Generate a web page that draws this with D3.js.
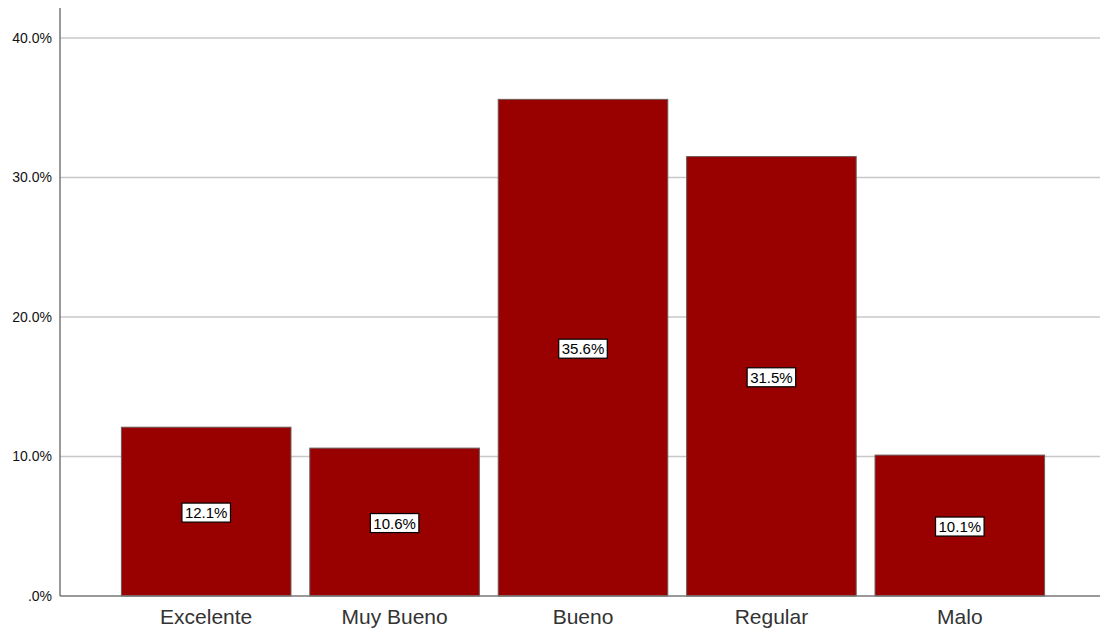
<!DOCTYPE html>
<html><head><meta charset="utf-8">
<script src="https://cdn.jsdelivr.net/npm/d3@7"></script>
<style>body{margin:0;background:#fff}svg{display:block}</style>
</head><body><svg id="c" width="1100" height="631"></svg>
<script>
const categories = ["Excelente","Muy Bueno","Bueno","Regular","Malo"];
const percents = [12.1, 10.6, 35.6, 31.5, 10.1];
const yTicks = [0, 10, 20, 30, 40];
const yTickLabels = [".0%", "10.0%", "20.0%", "30.0%", "40.0%"];

const svg = d3.select("#c");
const x0 = 60, x1 = 1100, yTop = 8, yBot = 596;
const FONT = "Arial, 'Liberation Sans', sans-serif";
const y = d3.scaleLinear().domain([0, 42.15]).range([yBot, yTop]);
const x = d3.scaleBand().domain(categories).range([x0 + 3, x1 + 3]).paddingInner(0.1).paddingOuter(0.31);

// grid
svg.append("g").selectAll("line").data(yTicks.filter(d=>d>0)).join("line")
  .attr("x1", x0).attr("x2", x1).attr("y1", d=>y(d)).attr("y2", d=>y(d))
  .attr("stroke", "#c8c8c8").attr("stroke-width", 1.5);

// bars
svg.append("g").selectAll("rect").data(percents).join("rect")
  .attr("x", (d,i)=>x(categories[i])).attr("width", x.bandwidth())
  .attr("y", d=>y(d)).attr("height", d=>yBot - y(d))
  .attr("fill", "#990000").attr("stroke", "#6e5a5a").attr("stroke-width", 1);

// axes
const yAxis = d3.axisLeft(y).tickValues(yTicks).tickFormat((d,i)=>yTickLabels[i]).tickSize(0).tickPadding(8);
const gy = svg.append("g").attr("transform", `translate(${x0},0)`).call(yAxis);
gy.select(".domain").remove();
gy.selectAll("text").attr("font-family", FONT).attr("font-size", 14).attr("fill","#111");
svg.append("line").attr("x1", x0).attr("x2", x0).attr("y1", yTop).attr("y2", yBot)
  .attr("stroke", "#777").attr("stroke-width", 1.5);

const xAxis = d3.axisBottom(x).tickSize(0).tickPadding(13);
const gx = svg.append("g").attr("transform", `translate(0,${yBot})`).call(xAxis);
gx.select(".domain").remove();
gx.selectAll("text").attr("font-family", FONT).attr("font-size", 21).attr("fill","#333");
svg.append("line").attr("x1", x0).attr("x2", x1).attr("y1", yBot).attr("y2", yBot)
  .attr("stroke", "#777").attr("stroke-width", 1.5);

// value labels
const lg = svg.append("g");
percents.forEach((d,i)=>{
  const cx = x(categories[i]) + x.bandwidth()/2, cy = y(d/2) + 1;
  const t = lg.append("text").attr("x", cx).attr("y", cy).attr("text-anchor","middle")
    .attr("dominant-baseline","central").attr("font-family", FONT)
    .attr("font-size", 15).attr("fill","#000").text(d.toFixed(1) + "%");
  const bb = t.node().getBBox();
  lg.insert("rect", "text").attr("x", bb.x - 3).attr("y", bb.y - 1).attr("width", bb.width + 6).attr("height", bb.height + 2)
    .attr("fill","#fff").attr("stroke","#000").attr("stroke-width",1.2);
});
</script></body></html>
